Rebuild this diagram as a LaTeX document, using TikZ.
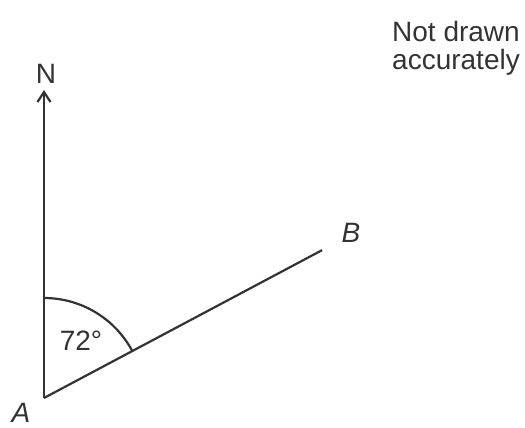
\documentclass[tikz,border=0pt]{standalone}
\usepackage{fontspec}
\setmainfont{Liberation Sans}
\usetikzlibrary{arrows.meta,calc}
\definecolor{ink}{HTML}{333333}
\tikzset{
  ray/.style={draw=ink, line width=1.1pt},
  lbl/.style={font=\fontsize{14}{14}\selectfont, text=ink, inner sep=0pt},
  pointlbl/.style={lbl, font=\fontsize{14}{14}\selectfont\itshape},
}

\begin{document}
\begin{tikzpicture}[x=0.5pt, y=0.5pt]
        \useasboundingbox (0,0) rectangle (525,428);
        \coordinate (A) at (44,30);
        \coordinate (N) at (44,338);
        \coordinate (B) at ($(A)+(28:315)$);
        \draw[ray, -{Straight Barb[length=5pt, width=6.5pt]}] (A) -- (N);
        \draw[ray] (A) -- (B);
        \draw[ray] ([shift={(90:100)}]A) arc[start angle=90, end angle=28, radius=100];
        \node[lbl] (Nlbl) at (46,354) {N};
        \node[pointlbl] (Albl) at (21,15) {A};
        \node[pointlbl] (Blbl) at (351,195) {B};
        \node[lbl] (ang) at (81,87) {72°};
        \node[lbl, align=center, anchor=north] (note) at (456,407) {Not drawn\\accurately};
      \end{tikzpicture}
\end{document}
